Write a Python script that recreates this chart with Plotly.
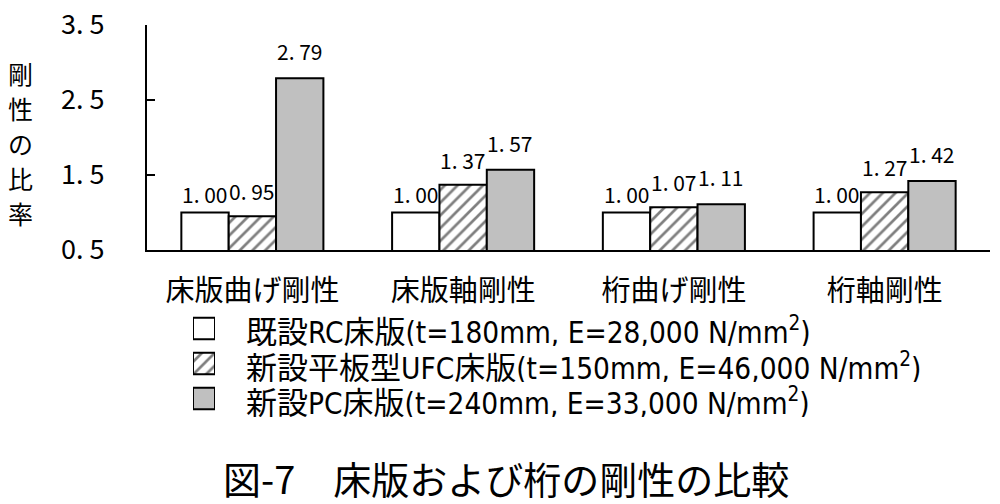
import re
import plotly.graph_objects as go

categories = ["床版曲げ剛性", "床版軸剛性", "桁曲げ剛性", "桁軸剛性"]
series_names = [
    "既設RC床版(t=180mm, E=28,000 N/mm²)",
    "新設平板型UFC床版(t=150mm, E=46,000 N/mm²)",
    "新設PC床版(t=240mm, E=33,000 N/mm²)",
]
rc_values = [1.00, 1.00, 1.00, 1.00]
ufc_values = [0.95, 1.37, 1.07, 1.27]
pc_values = [2.79, 1.57, 1.11, 1.42]
y_ticks = [0.5, 1.5, 2.5, 3.5]
y_ticktext = ["0. 5", "1. 5", "2. 5", "3. 5"]
y_title_chars = ["剛", "性", "の", "比", "率"]
fig_title = "図-7　床版および桁の剛性の比較"

FONT = "Noto Sans CJK JP"
LATIN = "DejaVu Sans Condensed"
W, H = 1000, 504
PX0, PX1, PY0, PY1 = 147, 990, 25, 250
BARGAP = 0.326


def px(x):
    return x / W


def py(y):
    return (H - y) / H


def fmt(v):
    return f"{v:.2f}".replace(".", ". ")


def legend_label(name, latin_font, size):
    name = name.replace("²", "<sup>2</sup>")
    parts = re.split(r"([\x20-\x7e]+(?:<sup>2</sup>[\x20-\x7e]*)?)", name)
    out = []
    for p in parts:
        if not p:
            continue
        if re.match(r"[\x20-\x7e]", p):
            out.append(f"<span style='font-family:\"{latin_font}\";font-size:{size}px'>{p}</span>")
        else:
            out.append(p)
    return "".join(out)


markers = [
    dict(color="white", line=dict(color="black", width=2)),
    dict(color="white", line=dict(color="black", width=2),
         pattern=dict(shape="/", fgcolor="black", bgcolor="white", size=9, solidity=0.3)),
    dict(color="#c0c0c0", line=dict(color="black", width=2)),
]
values = [rc_values, ufc_values, pc_values]
label_shift = [19, 25, 27]

fig = go.Figure()
for name, vals, mk in zip(series_names, values, markers):
    fig.add_trace(go.Bar(
        x=categories, y=vals, name=name, marker=mk,
        showlegend=False, xaxis="x", yaxis="y", hoverinfo="skip",
    ))

# value labels above each bar
bar_px = (PX1 - PX0) / len(categories) * (1 - BARGAP) / len(values)
for s, vals in enumerate(values):
    for cat, v in zip(categories, vals):
        fig.add_annotation(
            x=cat, y=v, xref="x", yref="y", text=fmt(v), showarrow=False,
            xshift=(s - 1) * bar_px, yshift=label_shift[s],
            xanchor="center", yanchor="middle",
            font=dict(size=21, family=FONT, color="black"),
        )

# legend keys drawn as small bars on an auxiliary axis
for i, (name, mk) in enumerate(zip(series_names, markers)):
    fig.add_trace(go.Bar(
        x=[1], y=[i], orientation="h", width=0.62, marker=mk,
        showlegend=False, hoverinfo="skip", xaxis="x2", yaxis="y2",
    ))

fig.update_layout(
    width=W, height=H,
    margin=dict(l=0, r=0, t=0, b=0),
    plot_bgcolor="white", paper_bgcolor="white",
    barmode="group", bargap=BARGAP, bargroupgap=0,
    font=dict(family=FONT, color="black"),
    showlegend=False,
    xaxis=dict(
        domain=[px(PX0), px(PX1)], automargin=False,
        showline=True, linecolor="black", linewidth=2,
        ticks="", tickfont=dict(size=29, family=FONT, color="black"),
        showgrid=False, ticklabelstandoff=14,
    ),
    yaxis=dict(
        domain=[py(PY1), py(PY0)], automargin=False,
        range=[0.5, 3.5], tickvals=y_ticks, ticktext=y_ticktext,
        showline=True, linecolor="black", linewidth=2,
        ticks="inside", ticklen=8, tickwidth=2, tickcolor="black",
        tickfont=dict(size=27, family=FONT, color="black"),
        showgrid=False, zeroline=False, ticklabelstandoff=35,
    ),
    xaxis2=dict(domain=[px(193), px(215)], range=[0, 1], visible=False,
                anchor="y2", fixedrange=True),
    yaxis2=dict(domain=[py(416), py(311)], range=[2.5, -0.5], visible=False,
                anchor="x2", fixedrange=True),
)

for i, ch in enumerate(y_title_chars):
    fig.add_annotation(
        text=ch, xref="paper", yref="paper",
        x=px(20), y=py(73 + 35 * i), xanchor="center", yanchor="middle",
        showarrow=False, font=dict(size=25, family=FONT, color="black"),
    )

for i, name in enumerate(series_names):
    fig.add_annotation(
        text=legend_label(name, LATIN, 29.5), xref="paper", yref="paper",
        x=px(245), y=py(329 + 35.5 * i), xanchor="left", yanchor="middle",
        showarrow=False, font=dict(size=31, family=FONT, color="black"),
        height=34, borderpad=0, valign="middle",
    )

fig.add_annotation(
    text=fig_title, xref="paper", yref="paper",
    x=px(506), y=py(477), xanchor="center", yanchor="middle",
    showarrow=False, font=dict(size=38, family=FONT, color="black"),
)

fig.write_html("out.html", config={"displayModeBar": False},
               post_script="document.body.style.margin='0';")
